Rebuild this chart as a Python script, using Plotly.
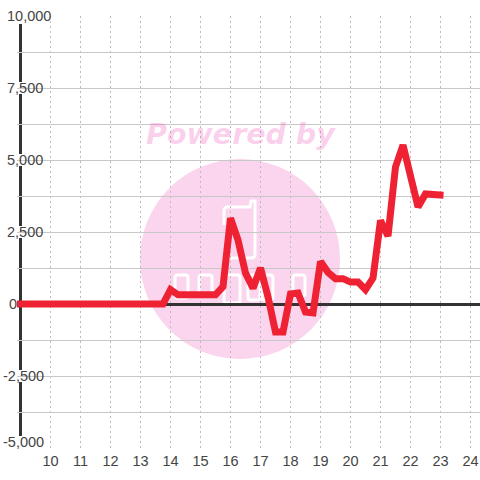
import plotly.graph_objects as go

x_values = [8.883, 9, 9.25, 9.5, 9.75, 10, 10.25, 10.5, 10.75, 11, 11.25, 11.5, 11.75, 12, 12.25, 12.5, 12.75,
            13, 13.25, 13.5, 13.75, 14, 14.25, 14.5, 14.75, 15, 15.25, 15.5, 15.75, 16, 16.25, 16.5, 16.75,
            17, 17.25, 17.5, 17.75, 18, 18.25, 18.5, 18.75, 19, 19.25, 19.5, 19.75, 20, 20.25, 20.5, 20.75,
            21, 21.25, 21.5, 21.75, 22, 22.25, 22.5, 22.75, 23, 23.1]
y_values = [0, 0, 0, 0, 0, 0, 0, 0, 0, 0, 0, 0, 0, 0, 0, 0, 0,
            0, 0, 0, 0, 500, 320, 320, 320, 320, 320, 320, 600, 2980, 2220, 1075, 550,
            1250, 250, -970, -970, 350, 380, -280, -310, 1480, 1100, 880, 880, 760, 760, 500, 900,
            2900, 2360, 4760, 5520, 4400, 3370, 3820, 3780, 3780, 3780]

x_ticks = [10, 11, 12, 13, 14, 15, 16, 17, 18, 19, 20, 21, 22, 23, 24]
y_ticks = [10000, 7500, 5000, 2500, 0, -2500, -5000]
y_tick_labels = ["10,000", "7,500", "5,000", "2,500", "0", "-2,500", "-5,000"]
watermark_text = "Powered by"

W, H = 480, 480
L, R, T, B = 17, 0, 16, 32
FONT = "Liberation Sans, Arial, sans-serif"
TEXT = "#444444"
PINK = "#fbd5ee"


def px(v):
    return (v - L) / (W - L - R)


def py(v):
    return 1 - (v - T) / (H - T - B)


def rpath(x0, y0, x1, y1, r=2.5):
    a, b, c, d = px(x0), py(y0), px(x1), py(y1)
    rx, ry = r / (W - L - R), r / (H - T - B)
    return (f"M{a + rx},{b} L{c - rx},{b} Q{c},{b} {c},{b - ry} L{c},{d + ry} Q{c},{d} {c - rx},{d} "
            f"L{a + rx},{d} Q{a},{d} {a},{d + ry} L{a},{b - ry} Q{a},{b} {a + rx},{b} Z")


shapes = [
    dict(type="circle", xref="paper", yref="paper", layer="below",
         x0=px(140), x1=px(340), y0=py(359), y1=py(159), fillcolor=PINK, line_width=0),
]
phone = (f"M{px(227)},{py(207)} L{px(250)},{py(207)} L{px(251)},{py(201)} L{px(255)},{py(201)} "
         f"L{px(255)},{py(254)} Q{px(255)},{py(258)} {px(251)},{py(258)} L{px(228)},{py(258)}")
white = dict(color="white", width=3)
shapes.append(dict(type="path", xref="paper", yref="paper", layer="below", path=phone, line=white))
shapes.append(dict(type="path", xref="paper", yref="paper", layer="below",
                   path=f"M{px(227)},{py(207)} Q{px(224)},{py(207)} {px(224)},{py(212)} L{px(224)},{py(225)}",
                   line=white))
for x0, x1, y1 in [(175, 188, 298), (199, 212, 296), (224, 240, 303), (248, 260, 300),
                   (262, 273, 300), (293, 305, 296)]:
    shapes.append(dict(type="path", xref="paper", yref="paper", layer="below",
                       path=rpath(x0, 275, x1, y1), line=white))

# hide the gridlines left of the y axis line, then draw that line
shapes.append(dict(type="rect", xref="paper", yref="paper", layer="between",
                   x0=px(16), x1=px(20), y0=0, y1=1, fillcolor="white", line_width=0))
shapes.append(dict(type="line", xref="paper", yref="paper", layer="between",
                   x0=px(20.5), x1=px(20.5), y0=0, y1=1, line=dict(color="#333333", width=3)))
# white boxes behind the labels interrupt the axis line and the gridlines
PER_PX = 15000 / (H - T - B)
for v, t in zip(y_ticks, y_tick_labels):
    if t == "0":
        continue
    right = 53 if v == y_ticks[0] else (46 if v == y_ticks[-1] else 43)
    if v == y_ticks[0]:
        y0, y1 = v - 8 * PER_PX, v
    elif v == y_ticks[-1]:
        y0, y1 = v, v + 12 * PER_PX
    else:
        y0, y1 = v - 6 * PER_PX, v + 6 * PER_PX
    shapes.append(dict(type="rect", xref="paper", yref="y", layer="between",
                       x0=px(16), x1=px(right), y0=y0, y1=y1, fillcolor="white", line_width=0))

annotations = []
for v, t in zip(y_ticks, y_tick_labels):
    left = 2 if t.startswith("-") else (8 if t == "0" else 6)
    annotations.append(dict(
        text=t, xref="paper", yref="y", x=px(left), y=v, xanchor="left", yanchor="middle",
        yshift=6 if v == y_ticks[-1] else 0, showarrow=False,
        font=dict(family=FONT, size=14.5, color=TEXT), borderpad=0))
annotations.append(dict(
    text=f"<b><i>{watermark_text}</i></b>", xref="paper", yref="paper", x=px(241), y=py(134),
    xanchor="center", yanchor="middle", showarrow=False,
    font=dict(family="DejaVu Sans", size=28.5, color="rgba(240,90,190,0.28)")))

fig = go.Figure(go.Scatter(x=x_values, y=y_values, mode="lines", cliponaxis=False, hoverinfo="skip",
                           line=dict(color="#ee2233", width=7, shape="linear")))

fig.update_layout(
    width=W, height=H, autosize=False, margin=dict(l=L, r=R, t=T, b=B, pad=0),
    paper_bgcolor="white", plot_bgcolor="white", showlegend=False,
    shapes=shapes, annotations=annotations,
    xaxis=dict(range=[10 - 33.5 / 30, 10 + 429.5 / 30], tickmode="array", tickvals=x_ticks,
               ticktext=[str(v) for v in x_ticks], ticklen=0, showline=False, zeroline=False,
               showgrid=True, gridcolor="#bbbbbb", gridwidth=1, griddash="2px,3px",
               tickfont=dict(family=FONT, size=14.5, color=TEXT), ticklabelstandoff=2),
    yaxis=dict(range=[-5000, 10000], dtick=1250, tick0=0, showticklabels=False, ticklen=0,
               showgrid=True, gridcolor="#c8c8c8", gridwidth=1, showline=False,
               zeroline=True, zerolinecolor="#333333", zerolinewidth=3),
)

fig.write_html("out.html", config={"displayModeBar": False},
               post_script="document.body.style.margin='0';")
